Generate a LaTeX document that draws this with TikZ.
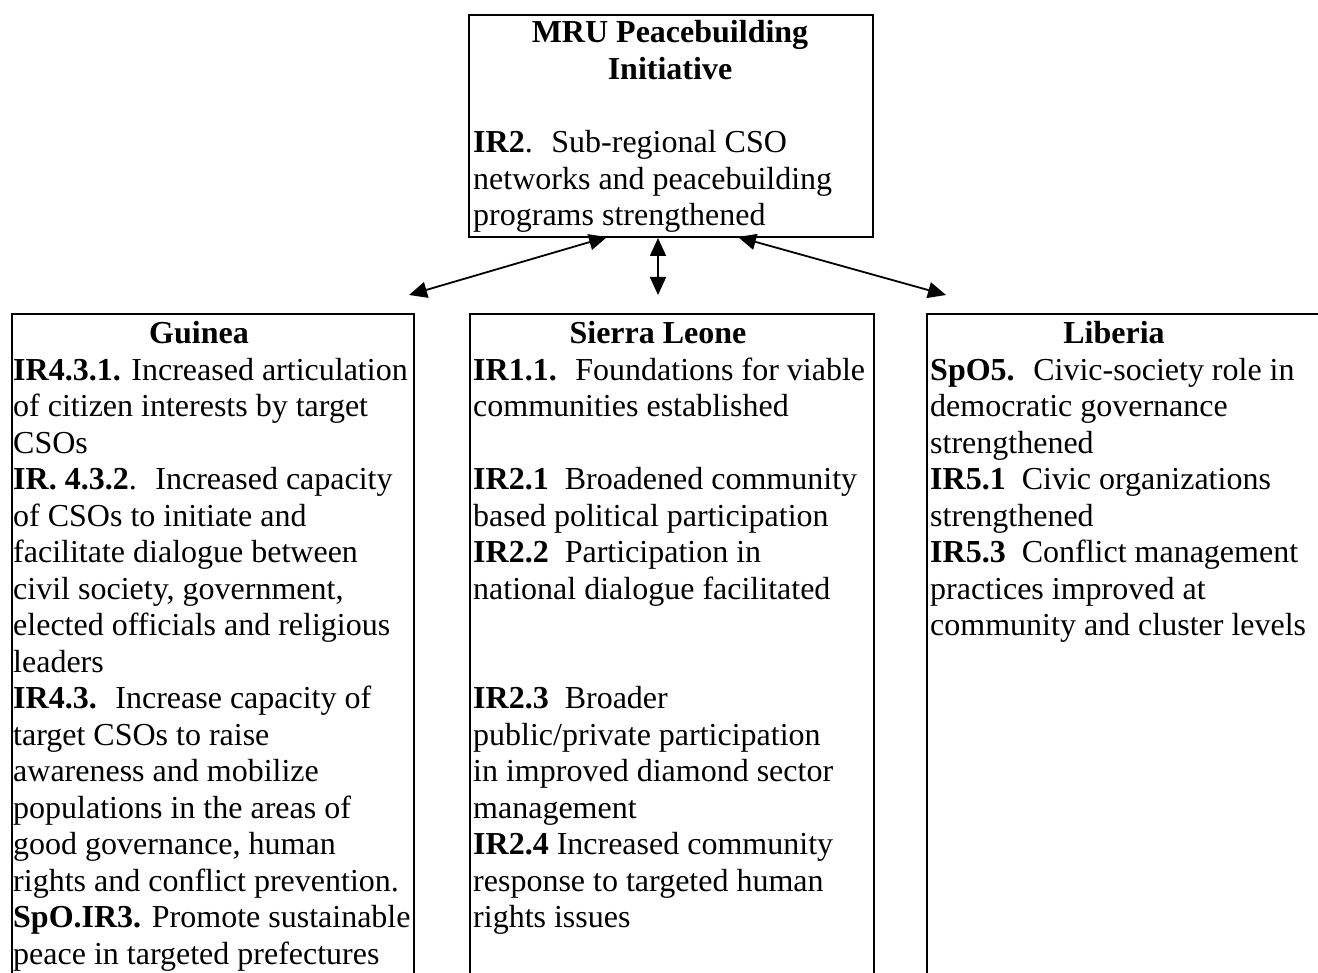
\documentclass[tikz,border=0pt]{standalone}
\usepackage{fontspec}
\setmainfont{Liberation Serif}
\usetikzlibrary{arrows.meta}
\newcommand{\bft}[1]{\textbf{#1}}
\begin{document}
\begin{tikzpicture}[x=1pt,y=-1pt,
  txt/.style={inner sep=0pt, font=\fontsize{32pt}{36.5pt}\selectfont},
  panel/.style={draw, line width=2.2pt, inner sep=0pt, anchor=north west},
  link/.style={line width=1.8pt, {Triangle[length=18pt,width=16pt]}-{Triangle[length=18pt,width=16pt]}}]
\useasboundingbox (0,0) rectangle (1318,973);
\clip (0,0) rectangle (1318,973);
% boxes
\node[panel, minimum width=404pt, minimum height=222pt] (top) at (468,14) {};
\node[panel, minimum width=402pt, minimum height=720pt] (guinea) at (11,313) {};
\node[panel, minimum width=404pt, minimum height=720pt] (sierra) at (469,313) {};
\node[panel, minimum width=460pt, minimum height=720pt] (liberia) at (926,313) {};
% top box text
\node[txt, anchor=base] (toptitle) at (670,43) {\begin{tabular}[t]{@{}c@{}}\bfseries MRU Peacebuilding\\ \bfseries Initiative\end{tabular}};
\node[txt, anchor=base west] (toptext) at (473,153) {\begin{tabular}[t]{@{}l@{}}\bft{IR2}.~ Sub-regional CSO\\ networks and peacebuilding\\ programs strengthened\end{tabular}};
% Guinea
\node[txt, anchor=base] (gtitle) at (199,344) {\bfseries Guinea};
\node[txt, anchor=base west] (gtext) at (13,380.5) {\begin{tabular}[t]{@{}l@{}}%
\bft{IR4.3.1.} Increased articulation\\
of citizen interests by target\\
CSOs\\
\bft{IR. 4.3.2}.~ Increased capacity\\
of CSOs to initiate and\\
facilitate dialogue between\\
civil society, government,\\
elected officials and religious\\
leaders\\
\bft{IR4.3.}~ Increase capacity of\\
target CSOs to raise\\
awareness and mobilize\\
populations in the areas of\\
good governance, human\\
rights and conflict prevention.\\
\bft{SpO.IR3.} Promote sustainable\\
peace in targeted prefectures\end{tabular}};
% Sierra Leone
\node[txt, anchor=base] (stitle) at (658,344) {\bfseries Sierra Leone};
\node[txt, anchor=base west] (stext) at (473,380.5) {\begin{tabular}[t]{@{}l@{}}%
\bft{IR1.1.}~ Foundations for viable\\
communities established\\
\\
\bft{IR2.1}~ Broadened community\\
based political participation\\
\bft{IR2.2}~ Participation in\\
national dialogue facilitated\\
\\
\\
\bft{IR2.3}~ Broader\\
public/private participation\\
in improved diamond sector\\
management\\
\bft{IR2.4} Increased community\\
response to targeted human\\
rights issues\end{tabular}};
% Liberia
\node[txt, anchor=base] (ltitle) at (1114,344) {\bfseries Liberia};
\node[txt, anchor=base west] (ltext) at (930,380.5) {\begin{tabular}[t]{@{}l@{}}%
\bft{SpO5.}~ Civic-society role in\\
democratic governance\\
strengthened\\
\bft{IR5.1}~ Civic organizations\\
strengthened\\
\bft{IR5.3}~ Conflict management\\
practices improved at\\
community and cluster levels\end{tabular}};
% connectors
\coordinate (tl) at (607,237);
\coordinate (gl) at (409,295);
\coordinate (tm) at (658,238);
\coordinate (sm) at (658,295);
\coordinate (tr) at (738,237);
\coordinate (lr) at (946,295);
\draw[link] (tl) -- (gl);
\draw[link] (tm) -- (sm);
\draw[link] (tr) -- (lr);
\end{tikzpicture}
\end{document}
